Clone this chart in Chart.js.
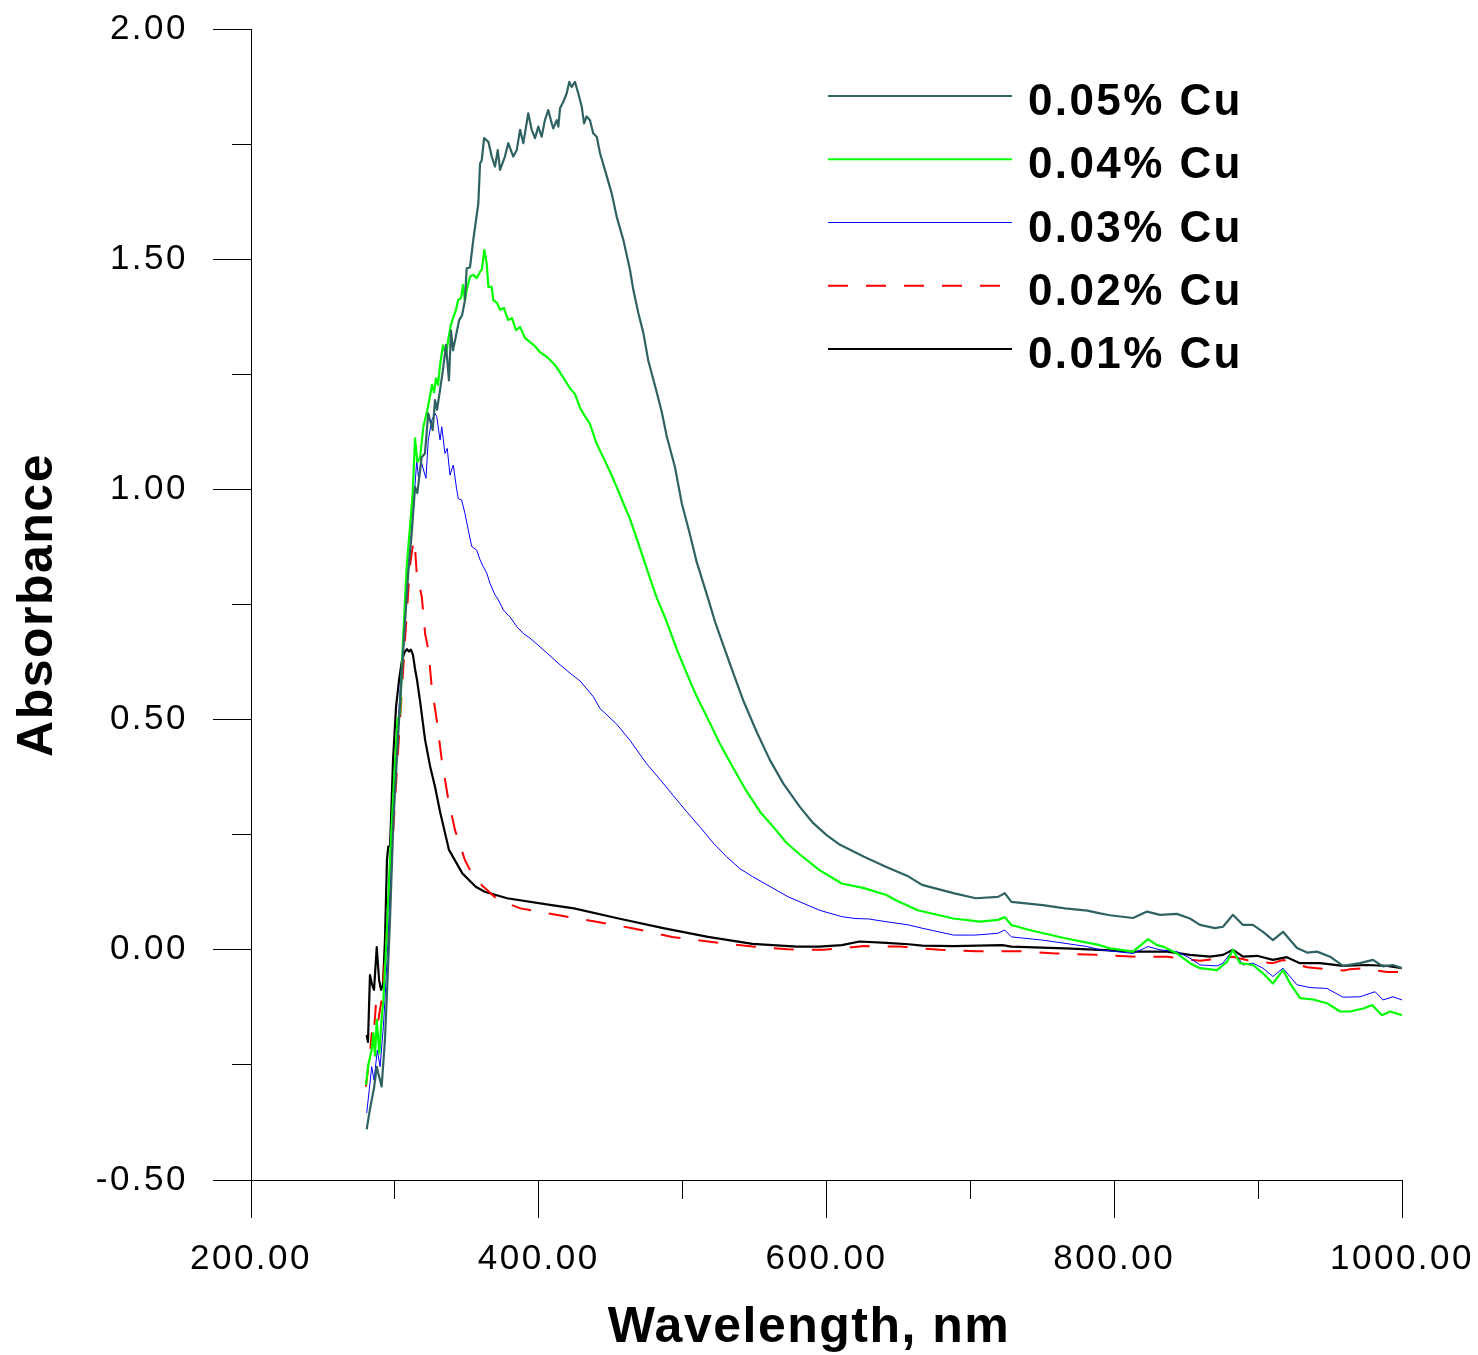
<!DOCTYPE html>
<html><head><meta charset="utf-8">
<script src="https://cdn.jsdelivr.net/npm/chart.js@4.4.1/dist/chart.umd.min.js"></script>
<style>html,body{margin:0;padding:0;background:#fff}canvas{display:block}</style>
</head><body>
<canvas id="c" width="1478" height="1355"></canvas>
<script>
// ---------------- data ----------------
const seriesLabels = ['0.05% Cu', '0.04% Cu', '0.03% Cu', '0.02% Cu', '0.01% Cu'];
const xTitle = 'Wavelength, nm';
const yTitle = 'Absorbance';
const xTickLabels = ['200.00', '400.00', '600.00', '800.00', '1000.00'];
const yTickLabels = ['-0.50', '0.00', '0.50', '1.00', '1.50', '2.00'];

const wl05 = [280.4,282.2,283.9,285.5,287.4,288.6,289.7,290.8,293.1,294.3,296.6,299.0,302.9,306.7,309.3,311.7,314.0,315.6,318.6,320.9,323.2,326.3,327.9,329.3,331.4,333.4,335.5,337.6,339.0,340.4,342.5,344.6,346.7,348.7,349.9,352.2,354.5,358.0,359.2,360.4,362.0,365.0,367.3,369.6,371.5,373.1,376.5,378.8,382.3,384.7,387.0,389.3,392.7,395.1,397.4,399.7,402.0,404.3,406.6,409.0,410.1,412.5,413.6,414.8,417.1,419.4,421.2,422.9,425.2,427.5,429.9,431.5,433.3,435.6,437.9,440.3,442.6,446.0,450.7,454.2,458.8,463.4,465.7,469.2,472.7,476.1,482.0,485.5,488.9,494.7,499.4,505.1,509.8,516.7,522.5,528.3,535.2,542.2,551.5,560.7,570.0,581.6,590.8,600.1,609.4,626.1,641.6,657.1,666.4,688.2,703.7,719.2,723.9,728.5,750.3,765.8,781.3,790.1,797.0,813.0,822.8,831.8,843.6,852.6,859.6,870.0,875.6,882.5,889.5,896.4,903.4,910.3,917.3,927.0,934.0,941.0,950.0,959.0,970.8,979.8,986.8,993.7,1000];
const abs05 = [-0.39,-0.355,-0.326,-0.30,-0.254,-0.27,-0.283,-0.297,-0.196,-0.109,0.065,0.282,0.499,0.695,0.818,0.905,1.005,0.992,1.07,1.078,1.165,1.129,1.194,1.173,1.216,1.259,1.314,1.237,1.345,1.302,1.334,1.367,1.378,1.411,1.48,1.482,1.542,1.621,1.708,1.715,1.763,1.755,1.723,1.701,1.737,1.694,1.723,1.752,1.723,1.737,1.781,1.752,1.817,1.781,1.763,1.788,1.766,1.802,1.824,1.795,1.784,1.802,1.788,1.828,1.842,1.86,1.885,1.874,1.885,1.86,1.831,1.795,1.81,1.802,1.773,1.766,1.73,1.694,1.643,1.592,1.542,1.477,1.434,1.383,1.34,1.28,1.211,1.168,1.116,1.048,0.97,0.902,0.842,0.773,0.713,0.661,0.601,0.541,0.473,0.412,0.361,0.31,0.275,0.249,0.228,0.202,0.18,0.159,0.141,0.123,0.112,0.115,0.123,0.104,0.097,0.09,0.085,0.079,0.075,0.069,0.083,0.076,0.078,0.068,0.054,0.047,0.05,0.076,0.054,0.054,0.039,0.021,0.039,0.004,-0.006,-0.004,-0.015,-0.035,-0.029,-0.022,-0.036,-0.033,-0.04];

const wl04 = [279.9,281.5,283.8,285.0,286.2,287.4,289.2,290.9,292.0,293.8,296.6,299.4,301.8,303.6,305.9,308.2,310.5,312.4,314.0,315.6,317.5,319.8,322.5,323.9,325.8,327.2,328.6,330.0,331.4,333.4,335.5,337.6,339.0,340.4,342.5,343.9,346.0,347.4,348.7,349.9,352.2,354.5,356.9,359.2,360.4,362.2,363.8,365.0,367.3,368.4,371.0,373.1,375.8,378.6,381.4,384.2,387.0,390.4,393.9,397.4,400.9,406.4,411.3,414.8,418.2,421.7,425.2,428.7,432.1,435.6,440.3,444.9,449.5,454.2,458.8,463.4,468.1,472.7,477.3,482.0,488.9,495.9,502.8,509.8,516.7,526.0,535.2,544.5,553.8,563.0,572.3,581.5,595.1,610.6,626.1,641.6,647.9,663.4,688.2,706.8,719.2,723.9,728.5,741.0,765.8,790.0,797.0,813.0,823.5,829.7,833.9,843.6,852.6,859.6,871.4,878.4,882.5,887.4,896.4,903.4,910.3,917.3,922.2,929.2,938.2,947.9,957.0,964.0,973.7,979.2,986.1,991.7,1000];
const abs04 = [-0.294,-0.25,-0.218,-0.181,-0.23,-0.152,-0.225,-0.145,-0.109,0.0,0.195,0.369,0.499,0.514,0.688,0.831,0.918,0.992,1.111,1.06,1.068,1.136,1.172,1.194,1.227,1.211,1.241,1.227,1.27,1.313,1.292,1.335,1.357,1.372,1.39,1.411,1.416,1.444,1.41,1.433,1.462,1.466,1.459,1.473,1.477,1.52,1.491,1.44,1.44,1.411,1.405,1.39,1.394,1.368,1.372,1.346,1.353,1.329,1.32,1.311,1.298,1.286,1.27,1.254,1.237,1.22,1.207,1.177,1.159,1.142,1.099,1.069,1.039,1.005,0.97,0.936,0.893,0.85,0.807,0.765,0.713,0.653,0.601,0.55,0.507,0.447,0.395,0.344,0.30,0.267,0.232,0.207,0.173,0.144,0.134,0.119,0.108,0.086,0.068,0.061,0.065,0.071,0.054,0.043,0.025,0.01,0.003,-0.004,0.023,0.01,0.007,-0.008,-0.029,-0.04,-0.044,-0.026,0.0,-0.029,-0.033,-0.051,-0.073,-0.044,-0.073,-0.105,-0.108,-0.116,-0.134,-0.134,-0.127,-0.12,-0.142,-0.134,-0.142];

const wl03 = [280.4,282.2,283.9,285.5,287.8,289.7,292.0,293.1,295.2,297.3,299.7,302.2,304.3,306.3,308.8,311.2,313.3,315.2,316.3,318.6,321.6,323.2,325.6,327.9,329.1,331.4,332.6,334.8,336.4,338.3,340.6,343.0,344.1,346.4,348.7,351.0,353.4,356.9,359.2,361.5,363.9,366.1,369.6,371.9,375.4,380.0,384.7,389.3,393.9,400.9,414.8,421.7,428.7,437.9,442.6,454.2,463.4,475.0,484.3,493.5,502.8,512.0,521.3,530.6,539.9,548.6,573.4,595.1,610.6,619.9,629.3,641.6,657.1,666.4,688.2,703.7,719.2,723.9,728.5,750.3,765.8,781.3,790.0,813.0,823.5,831.8,843.6,852.6,859.6,871.4,875.6,882.5,889.5,896.4,903.4,910.3,917.3,927.0,936.0,947.9,959.0,970.8,981.3,986.8,993.7,1000];
const abs03 = [-0.355,-0.304,-0.254,-0.283,-0.218,-0.254,-0.167,-0.109,0.021,0.173,0.347,0.488,0.60,0.709,0.814,0.896,0.977,1.064,1.028,1.057,1.024,1.107,1.15,1.165,1.158,1.107,1.136,1.078,1.089,1.031,1.053,0.999,0.98,0.977,0.948,0.912,0.876,0.868,0.847,0.832,0.818,0.796,0.771,0.76,0.738,0.723,0.702,0.687,0.677,0.658,0.619,0.601,0.584,0.55,0.524,0.49,0.455,0.404,0.37,0.335,0.30,0.267,0.232,0.202,0.176,0.159,0.115,0.086,0.072,0.068,0.067,0.061,0.054,0.047,0.032,0.032,0.036,0.043,0.028,0.021,0.014,0.007,0.0,-0.008,0.007,0.0,-0.004,-0.018,-0.033,-0.035,-0.029,0.0,-0.033,-0.029,-0.04,-0.058,-0.04,-0.076,-0.082,-0.084,-0.103,-0.102,-0.091,-0.109,-0.102,-0.109];

const wl02 = [279.9,282.7,283.9,285.0,286.9,288.5,290.8,293.1,296.6,300.1,303.6,307.0,310.5,312.6,313.6,315.2,318.7,321.0,323.3,325.6,329.1,332.6,337.2,341.8,348.7,354.5,361.2,371.7,387.3,412.0,440.0,464.9,492.7,517.6,548.6,573.2,598.3,626.0,651.1,678.9,703.7,734.5,759.5,787.3,815.4,836.7,859.6,882.5,894.3,910.3,917.3,934.0,941.0,959.8,964.0,973.7,982.8,989.7,1000];
const abs02 = [-0.297,-0.225,-0.181,-0.196,-0.116,-0.152,-0.109,-0.022,0.13,0.325,0.50,0.67,0.835,0.88,0.89,0.818,0.767,0.687,0.651,0.571,0.499,0.412,0.325,0.26,0.195,0.159,0.138,0.108,0.09,0.076,0.061,0.047,0.028,0.018,0.007,0.001,0.0,0.008,0.007,0.0,-0.003,-0.003,-0.008,-0.011,-0.015,-0.015,-0.024,-0.015,-0.024,-0.029,-0.022,-0.038,-0.04,-0.045,-0.042,-0.04,-0.045,-0.048,-0.048];

const wl01 = [280.4,281.3,282.7,284.1,285.5,287.4,289.0,290.4,291.7,293.1,294.5,295.4,296.6,297.3,298.7,300.8,302.9,305.0,307.0,308.4,309.8,311.2,312.6,314.0,315.4,317.5,321.0,324.4,327.9,331.4,335.5,337.6,346.9,356.2,362.4,378.0,408.9,424.5,455.5,486.5,517.6,548.6,579.5,595.1,610.6,623.0,641.6,657.1,666.4,688.2,722.3,728.5,765.8,790.1,813.0,836.7,852.6,866.5,875.6,882.5,889.5,899.2,910.3,920.0,929.0,943.0,959.0,975.7,989.6,1000];
const abs01 = [-0.185,-0.2,-0.055,-0.075,-0.087,0.006,-0.065,-0.087,-0.076,0.02,0.195,0.224,0.225,0.28,0.41,0.527,0.586,0.63,0.648,0.653,0.648,0.652,0.64,0.61,0.586,0.54,0.456,0.40,0.354,0.30,0.245,0.217,0.166,0.137,0.126,0.112,0.097,0.09,0.068,0.047,0.028,0.013,0.007,0.007,0.01,0.018,0.015,0.012,0.009,0.008,0.01,0.007,0.003,0.0,-0.004,-0.004,-0.011,-0.015,-0.011,0.0,-0.015,-0.013,-0.022,-0.016,-0.029,-0.029,-0.035,-0.033,-0.035,-0.04];

// ---------------- styles ----------------
const FONT = "'Liberation Sans', Arial, Helvetica, sans-serif";
const styles = [
  {color: '#2f6262', width: 2.2, dash: []},
  {color: '#00ff00', width: 2.2, dash: []},
  {color: '#0000ff', width: 1, dash: []},
  {color: '#ff0000', width: 2, dash: [20, 18]},
  {color: '#000000', width: 2.2, dash: []}
];
const wls = [wl05, wl04, wl03, wl02, wl01];
const absv = [abs05, abs04, abs03, abs02, abs01];

const datasets = seriesLabels.map((lab, i) => ({
  label: lab,
  data: wls[i].map((w, k) => ({x: w, y: absv[i][k]})),
  borderColor: styles[i].color,
  borderWidth: styles[i].width,
  borderDash: styles[i].dash,
  pointRadius: 0,
  fill: false,
  tension: 0
}));

const isMajorX = v => Math.abs(v % 200) < 1e-6;
const isMajorY = v => Math.abs(v * 2 - Math.round(v * 2)) < 1e-6;

const decor = {
  id: 'decor',
  beforeDraw(chart) { chart.ctx.letterSpacing = '2.5px'; },
  afterDraw(chart) {
    const ctx = chart.ctx;
    ctx.save();
    ctx.fillStyle = '#000';
    ctx.font = 'bold 50px ' + FONT;
    ctx.letterSpacing = '1.5px';
    ctx.textAlign = 'center';
    ctx.textBaseline = 'alphabetic';
    ctx.fillText(xTitle, 809, 1342);
    ctx.save();
    ctx.translate(52, 605);
    ctx.rotate(-Math.PI / 2);
    ctx.fillText(yTitle, 0, 0);
    ctx.restore();
    // legend
    ctx.font = 'bold 44px ' + FONT;
    ctx.letterSpacing = '2.4px';
    ctx.textAlign = 'left';
    chart.data.datasets.forEach((ds, i) => {
      const y = 96 + i * 63.25;
      ctx.save();
      ctx.strokeStyle = ds.borderColor;
      ctx.lineWidth = ds.borderWidth;
      ctx.setLineDash(ds.borderDash || []);
      ctx.beginPath();
      ctx.moveTo(828, y);
      ctx.lineTo(1012, y);
      ctx.stroke();
      ctx.restore();
      ctx.fillText(ds.label, 1028, y + 19);
    });
    ctx.restore();
  }
};

new Chart(document.getElementById('c'), {
  type: 'line',
  data: {datasets},
  options: {
    responsive: false,
    animation: false,
    devicePixelRatio: 1,
    layout: {padding: {top: 29, right: 76, left: 0, bottom: 0}},
    plugins: {legend: {display: false}, tooltip: {enabled: false}},
    elements: {line: {borderJoinStyle: 'round', borderCapStyle: 'butt'}, point: {radius: 0}},
    scales: {
      x: {
        type: 'linear', min: 200, max: 1000,
        border: {display: true, color: '#000', width: 1},
        grid: {
          drawOnChartArea: false, drawTicks: true, tickLength: 38,
          color: '#000', tickColor: '#000', tickWidth: 1,
          tickBorderDash: c => (c.tick && isMajorX(c.tick.value)) ? [] : [18, 100]
        },
        ticks: {
          stepSize: 100, autoSkip: false, maxRotation: 0, minRotation: 0,
          padding: 20, color: '#000', font: {family: FONT, size: 35},
          callback: v => isMajorX(v) ? xTickLabels[Math.round((v - 200) / 200)] : ''
        },
        afterFit: s => { s.height = 175; s.paddingLeft = 0; s.paddingRight = 0; s.paddingTop = 0; s.paddingBottom = 0; }
      },
      y: {
        type: 'linear', min: -0.5, max: 2.0,
        border: {display: true, color: '#000', width: 1},
        grid: {
          drawOnChartArea: false, drawTicks: true, tickLength: 38,
          color: '#000', tickColor: '#000', tickWidth: 1,
          tickBorderDash: c => (c.tick && isMajorY(c.tick.value)) ? [] : [19, 19],
          tickBorderDashOffset: c => (c.tick && isMajorY(c.tick.value)) ? 0 : 19
        },
        ticks: {
          stepSize: 0.25, autoSkip: false, padding: 25, color: '#000',
          font: {family: FONT, size: 35},
          callback: v => isMajorY(v) ? yTickLabels[Math.round((v + 0.5) * 2)] : ''
        },
        afterFit: s => { s.width = 251; s.paddingLeft = 0; s.paddingRight = 0; s.paddingTop = 0; s.paddingBottom = 0; }
      }
    }
  },
  plugins: [decor]
});
</script>
</body></html>
